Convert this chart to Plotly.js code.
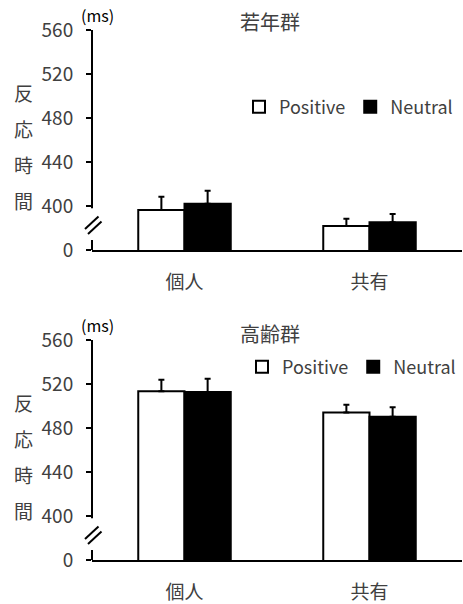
<!DOCTYPE html>
<html>
<head>
<meta charset="utf-8">
<script src="https://cdn.plot.ly/plotly-3.0.1.min.js"></script>
<style>html,body{margin:0;padding:0;background:#fff;}#chart{width:463px;height:604px;}</style>
</head>
<body>
<div id="chart"></div>
<script>
// ---- data ----
const categories = ['個人', '共有'];
const seriesNames = ['Positive', 'Neutral'];
const youngPositive = [396.4, 381.8];
const youngPositiveErr = [12.1, 6.6];
const youngNeutral = [402.1, 385.2];
const youngNeutralErr = [11.8, 7.5];
const elderPositive = [513.4, 494.2];
const elderPositiveErr = [10.5, 6.9];
const elderNeutral = [512.7, 490.3];
const elderNeutralErr = [12.1, 8.5];
const tickVals = [360, 400, 440, 480, 520, 560];
const tickText = ['0', '400', '440', '480', '520', '560'];
const panelTitles = ['若年群', '高齢群'];
const yLabelChars = ['反', '応', '時', '間'];
const unitLabel = '(ms)';

// ---- helpers ----
const W = 463, H = 604, L = 92, PW = 370;
const px2x = p => (p - L) / PW;
const py2y = p => 1 - p / H;
const FONT = '"Noto Sans CJK JP", "Noto Sans", sans-serif';
const TXT = '#404040';

function barTrace(name, y, err, xa, ya, leg, fill, show) {
  return {
    type: 'bar', name: name, x: categories, y: y,
    xaxis: xa, yaxis: ya, legend: leg, showlegend: show,
    marker: {color: fill, line: {color: '#000', width: 2}},
    error_y: {type: 'data', array: err, arrayminus: err.map(() => 0), symmetric: false,
              color: '#000', thickness: 2, width: 3}
  };
}

const data = [
  barTrace(seriesNames[0], youngPositive, youngPositiveErr, 'x', 'y', 'legend', '#fff', true),
  barTrace(seriesNames[1], youngNeutral, youngNeutralErr, 'x', 'y', 'legend', '#000', true),
  barTrace(seriesNames[0], elderPositive, elderPositiveErr, 'x2', 'y2', 'legend2', '#fff', true),
  barTrace(seriesNames[1], elderNeutral, elderNeutralErr, 'x2', 'y2', 'legend2', '#000', true)
];

function xAxis(anchor) {
  return {anchor: anchor, domain: [0, 1], range: [-0.5, 1.5], type: 'category',
    showline: true, linewidth: 2, linecolor: '#000', ticks: '', showgrid: false,
    zeroline: false, tickfont: {family: FONT, size: 19, color: TXT},
    ticklabelstandoff: 14, automargin: false, fixedrange: true};
}
function yAxis(anchor, top, bottom) {
  return {anchor: anchor, domain: [py2y(bottom), py2y(top)], range: [360, 560],
    tickmode: 'array', tickvals: tickVals, ticktext: tickText,
    ticks: 'outside', ticklen: 5, tickwidth: 2, tickcolor: '#000',
    showline: false, showgrid: false, zeroline: false,
    tickfont: {family: FONT, size: 19, color: TXT},
    ticklabelstandoff: 9, automargin: false, fixedrange: true};
}

const shapes = [];
const annotations = [];
[0, 310].forEach((off, i) => {
  const ya = i === 0 ? 'y' : 'y2';
  // broken y-axis line
  shapes.push({type: 'line', xref: 'paper', yref: ya, x0: 0, x1: 0, y0: 360, y1: 369, line: {color: '#000', width: 2}});
  shapes.push({type: 'line', xref: 'paper', yref: ya, x0: 0, x1: 0, y0: 398, y1: 560, line: {color: '#000', width: 2}});
  // break marks //
  shapes.push({type: 'line', xref: 'paper', yref: 'paper', x0: px2x(85), y0: py2y(229 + off), x1: px2x(98.5), y1: py2y(216.5 + off), line: {color: '#000', width: 2}});
  shapes.push({type: 'line', xref: 'paper', yref: 'paper', x0: px2x(88), y0: py2y(234 + off), x1: px2x(101.5), y1: py2y(221.5 + off), line: {color: '#000', width: 2}});
  // panel title
  annotations.push({text: panelTitles[i], xref: 'paper', yref: 'paper', x: px2x(270), y: py2y((i === 0 ? 21 : 333)),
    xanchor: 'center', yanchor: 'middle', showarrow: false, font: {family: FONT, size: 20, color: TXT}});
  // unit
  annotations.push({text: unitLabel, xref: 'paper', yref: 'paper', x: px2x(97), y: py2y(15 + off),
    xanchor: 'center', yanchor: 'middle', showarrow: false, font: {family: FONT, size: 16, color: '#000'}});
  // y label (vertical)
  annotations.push({text: yLabelChars.map(c => '<span style="font-size:19px">' + c + '</span>').join('<br>'),
    xref: 'paper', yref: 'paper', x: px2x(23), y: py2y(146 + off),
    xanchor: 'center', yanchor: 'middle', showarrow: false, font: {family: FONT, size: 27.7, color: TXT}});
});

const legendCommon = {orientation: 'h', xanchor: 'right', yanchor: 'middle', bgcolor: 'rgba(0,0,0,0)',
  font: {family: FONT, size: 18, color: TXT}, itemwidth: 30, borderwidth: 0,
  itemclick: false, itemdoubleclick: false};

const layout = {
  width: W, height: H,
  margin: {l: L, r: 1, t: 0, b: 0, pad: 0},
  paper_bgcolor: '#fff', plot_bgcolor: '#fff',
  barmode: 'group', bargap: 0.5, bargroupgap: 0,
  xaxis: xAxis('y'), yaxis: yAxis('x', 30, 250),
  xaxis2: xAxis('y2'), yaxis2: yAxis('x2', 340, 560),
  legend: Object.assign({x: px2x(458), y: py2y(107)}, legendCommon),
  legend2: Object.assign({x: px2x(461), y: py2y(367)}, legendCommon),
  shapes: shapes, annotations: annotations
};

Plotly.newPlot('chart', data, layout, {displayModeBar: false, staticPlot: true});
</script>
</body>
</html>
